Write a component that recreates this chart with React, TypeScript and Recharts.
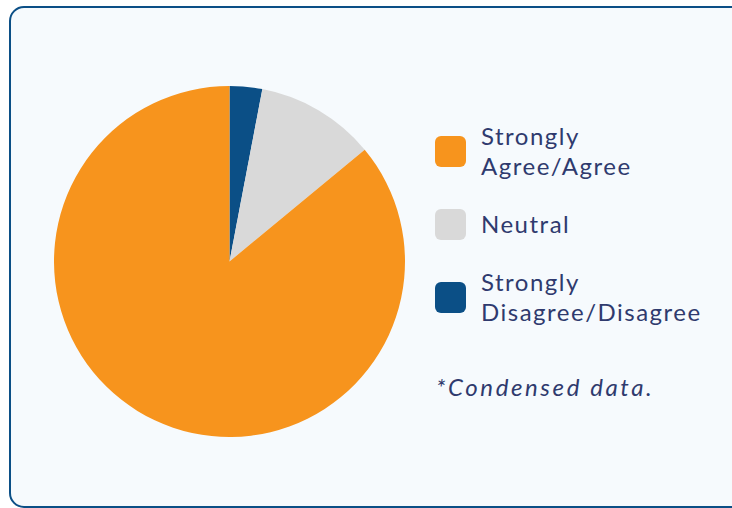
import React from 'react';
import { PieChart, Pie, Cell } from 'recharts';

// slices in drawing order, clockwise from 12 o'clock
const SLICE_NAMES = ['Strongly Disagree/Disagree', 'Neutral', 'Strongly Agree/Agree'];
const SLICE_VALUES = [3, 11, 86];
const SLICE_COLORS = ['#0b4f86', '#d9d9d9', '#f7941d'];

// legend rows, top to bottom
const LEGEND_LINES = [['Strongly', 'Agree/Agree'], ['Neutral'], ['Strongly', 'Disagree/Disagree']];
const LEGEND_COLORS = ['#f7941d', '#d9d9d9', '#0b4f86'];
const NOTE = '*Condensed data.';

const TEXT_COLOR = '#2f3a6e';
const FONT = 'Lato, "Open Sans", sans-serif';

export default function App() {
  const data = SLICE_NAMES.map((name, i) => ({ name, value: SLICE_VALUES[i] }));
  const rowTops = [121, 209, 267];

  return (
    <div style={{ position: 'absolute', left: 0, top: 0, width: 732, height: 508, background: '#fff', overflow: 'hidden', fontFamily: FONT }}>
      <div
        style={{
          position: 'absolute',
          left: 9,
          top: 6,
          width: 740,
          height: 502,
          border: '2px solid #0b4f86',
          borderRadius: 15,
          background: '#f6fafd',
          boxSizing: 'border-box',
        }}
      />
      <div style={{ position: 'absolute', left: 0, top: 0 }}>
        <PieChart width={732} height={508} margin={{ top: 0, right: 0, bottom: 0, left: 0 }}>
          <Pie
            data={data}
            dataKey="value"
            cx={229.5}
            cy={261.5}
            outerRadius={175.5}
            startAngle={90}
            endAngle={-270}
            stroke="none"
            isAnimationActive={false}
          >
            {data.map((d, i) => (
              <Cell key={d.name} fill={SLICE_COLORS[i]} />
            ))}
          </Pie>
        </PieChart>
      </div>

      {LEGEND_LINES.map((lines, i) => {
        const h = lines.length * 30;
        return (
          <div key={i} style={{ position: 'absolute', left: 435, top: rowTops[i], display: 'flex', alignItems: 'center', height: h }}>
            <div style={{ width: 31, height: 31, borderRadius: 6, background: LEGEND_COLORS[i], flex: 'none' }} />
            <div style={{ marginLeft: 15, color: TEXT_COLOR, fontSize: 24, fontWeight: 400, letterSpacing: 1.5, lineHeight: '30px' }}>
              {lines.map((l) => (
                <div key={l}>{l}</div>
              ))}
            </div>
          </div>
        );
      })}

      <div style={{ position: 'absolute', left: 436, top: 372, color: TEXT_COLOR, fontSize: 24, fontWeight: 400, letterSpacing: 2.6, fontStyle: 'italic', lineHeight: '30px' }}>
        {NOTE}
      </div>
    </div>
  );
}
